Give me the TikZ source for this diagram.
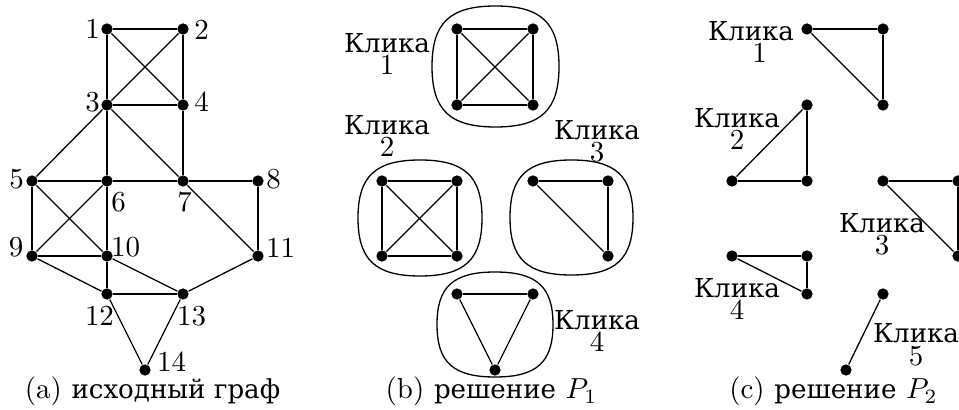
\documentclass[tikz,border=0pt]{standalone}
\usepackage{fontspec}
\newfontfamily\rusfont[Scale=0.9]{DejaVu Serif}
\newcommand{\kk}{0.72}
\newcommand{\sqloop}[4]{%
 \draw[edge] ({#1+#3},{#2}) .. controls ({#1+#3},{#2-\kk*#4}) and ({#1+\kk*#3},{#2-#4}) .. ({#1},{#2-#4})
 .. controls ({#1-\kk*#3},{#2-#4}) and ({#1-#3},{#2-\kk*#4}) .. ({#1-#3},{#2})
 .. controls ({#1-#3},{#2+\kk*#4}) and ({#1-\kk*#3},{#2+#4}) .. ({#1},{#2+#4})
 .. controls ({#1+\kk*#3},{#2+#4}) and ({#1+#3},{#2+\kk*#4}) .. cycle;}
\newcommand{\kl}[1]{\vbox{\baselineskip=7.8pt\lineskiplimit=-20pt\lineskip=0pt
  \halign{\hfil##\hfil\cr{\rusfont Клика}\cr #1\cr}}}
\tikzset{
  dot/.style={circle, fill=black, inner sep=0pt, minimum size=3.9pt},
  lbl/.style={inner sep=0pt, font=\fontsize{10}{12}\selectfont},
  edge/.style={line width=0.45pt},
}
\begin{document}
\begin{tikzpicture}[x=0.345pt, y=-0.345pt]
\useasboundingbox (0,0) rectangle (959,410);
% ---------- (a) ----------
\node[dot] (a1) at (107,29) {};
\node[dot] (a2) at (183,29) {};
\node[dot] (a3) at (107,105) {};
\node[dot] (a4) at (183,105) {};
\node[dot] (a5) at (32,181) {};
\node[dot] (a6) at (107,181) {};
\node[dot] (a7) at (183,181) {};
\node[dot] (a8) at (258,181) {};
\node[dot] (a9) at (32,256) {};
\node[dot] (a10) at (107,256) {};
\node[dot] (a11) at (258,256) {};
\node[dot] (a12) at (107,294) {};
\node[dot] (a13) at (183,294) {};
\node[dot] (a14) at (145,370) {};
\foreach \u/\v in {a1/a2,a1/a3,a1/a4,a2/a3,a2/a4,a3/a4,a3/a5,a3/a6,a3/a7,a4/a7,
  a5/a6,a6/a7,a7/a8,a5/a9,a5/a10,a6/a9,a6/a10,a9/a10,a7/a11,a8/a11,
  a9/a12,a10/a12,a10/a13,a12/a13,a11/a13,a12/a14,a13/a14}
  \draw[edge] (\u) -- (\v);
\node[lbl] (l1) at (92.5,29) {1};
\node[lbl] (l2) at (201.5,29.5) {2};
\node[lbl] (l3) at (92.5,102) {3};
\node[lbl] (l4) at (201.5,102) {4};
\node[lbl] (l5) at (16.5,179) {5};
\node[lbl] (l6) at (118.5,202) {6};
\node[lbl] (l7) at (184.5,202) {7};
\node[lbl] (l8) at (273.5,179) {8};
\node[lbl] (l9) at (16,247.5) {9};
\node[lbl] (l10) at (125.5,247.5) {10};
\node[lbl] (l11) at (280.5,247.5) {11};
\node[lbl] (l12) at (99.5,316) {12};
\node[lbl] (l13) at (191.5,316) {13};
\node[lbl] (l14) at (171.5,362) {14};
\node[lbl, anchor=base] (capa) at (152.5,399) {(a) {\rusfont исходный граф}};
% ---------- (b) ----------
\node[dot] (b1) at (457,29) {};
\node[dot] (b2) at (533,29) {};
\node[dot] (b3) at (457,105) {};
\node[dot] (b4) at (533,105) {};
\node[dot] (b5) at (382,181) {};
\node[dot] (b6) at (457,181) {};
\node[dot] (b7) at (382,256) {};
\node[dot] (b8) at (457,256) {};
\node[dot] (b9) at (533,181) {};
\node[dot] (b10) at (608,181) {};
\node[dot] (b11) at (608,256) {};
\node[dot] (b12) at (457,294) {};
\node[dot] (b13) at (533,294) {};
\node[dot] (b14) at (495,370) {};
\foreach \u/\v in {b1/b2,b1/b3,b1/b4,b2/b3,b2/b4,b3/b4,
  b5/b6,b5/b7,b5/b8,b6/b7,b6/b8,b7/b8,
  b9/b10,b10/b11,b9/b11,b12/b13,b12/b14,b13/b14}
  \draw[edge] (\u) -- (\v);
\sqloop{495.5}{66.5}{63.5}{60.5}
\sqloop{420}{218}{62}{58}
\sqloop{571.5}{217.5}{61.5}{57.5}
\sqloop{495}{324.5}{58}{52.5}
\node[lbl, anchor=base] (bk1) at (387,75) {\kl{1}};
\node[lbl, anchor=base] (bk2) at (387,157) {\kl{2}};
\node[lbl, anchor=base] (bk3) at (597,162) {\kl{3}};
\node[lbl, anchor=base] (bk4) at (597,352) {\kl{4}};
\node[lbl, anchor=base] (capb) at (491.5,399) {(b) {\rusfont решение} $P_1$};
% ---------- (c) ----------
\node[dot] (c1) at (807,29) {};
\node[dot] (c2) at (883,29) {};
\node[dot] (c3) at (883,105) {};
\node[dot] (c4) at (807,105) {};
\node[dot] (c5) at (732,181) {};
\node[dot] (c6) at (807,181) {};
\node[dot] (c7) at (883,181) {};
\node[dot] (c8) at (958,181) {};
\node[dot] (c9) at (958,256) {};
\node[dot] (c10) at (732,256) {};
\node[dot] (c11) at (807,256) {};
\node[dot] (c12) at (807,294) {};
\node[dot] (c13) at (883,294) {};
\node[dot] (c14) at (846,370) {};
\foreach \u/\v in {c1/c2,c2/c3,c1/c3,c4/c5,c4/c6,c5/c6,c7/c8,c8/c9,c7/c9,
  c10/c11,c11/c12,c10/c12,c13/c14}
  \draw[edge] (\u) -- (\v);
\node[lbl, anchor=base] (ck1) at (751,63) {\kl{\hspace*{6pt}1}};
\node[lbl, anchor=base] (ck2) at (737,150) {\kl{2}};
\node[lbl, anchor=base] (ck3) at (882,255) {\kl{3}};
\node[lbl, anchor=base] (ck4) at (737,320) {\kl{4}};
\node[lbl, anchor=base] (ck5) at (916,365) {\kl{5}};
\node[lbl, anchor=base] (capc) at (833.5,399) {(c) {\rusfont решение} $P_2$};
\end{tikzpicture}
\end{document}
